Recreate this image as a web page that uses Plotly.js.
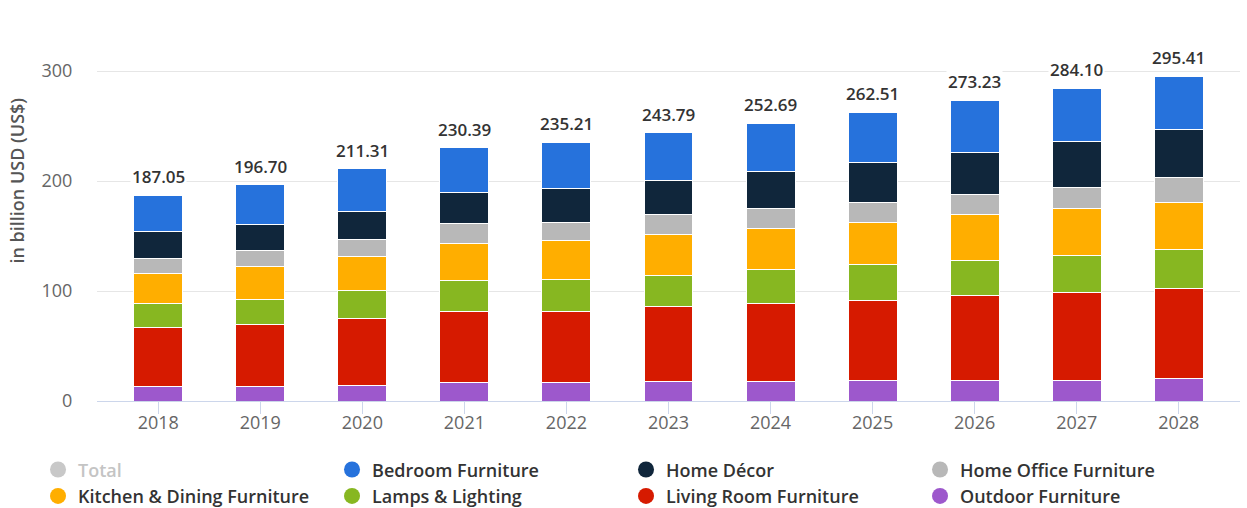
<!DOCTYPE html>
<html>
<head>
<meta charset="utf-8">
<script src="https://cdn.plot.ly/plotly-3.0.1.min.js"></script>
<style>html,body{margin:0;padding:0;background:#fff;}#chart{width:1247px;height:508px;}</style>
</head>
<body>
<div id="chart"></div>
<script>
const years = ['2018','2019','2020','2021','2022','2023','2024','2025','2026','2027','2028'];
const totals = [187.05,196.70,211.31,230.39,235.21,243.79,252.69,262.51,273.23,284.10,295.41];
const outdoor  = [13.3,13.3,14.5,16.4,16.4,17.9,17.9,18.8,18.8,18.8,20.3];
const livingRoom = [53.4,55.8,60.4,65.1,65.1,68.2,70.6,72.7,76.7,79.7,81.9];
const lamps    = [21.8,23.3,25.7,27.6,28.8,28.2,31.5,32.5,32.4,34.0,35.7];
const kitchen  = [27.3,30.1,31.2,34.0,35.8,37.0,36.7,38.2,41.5,42.4,43.0];
const homeOffice = [13.6,14.5,14.9,18.2,16.6,18.1,18.2,18.7,18.5,19.6,22.7];
const homeDecor = [24.3,23.6,26.0,27.8,30.4,31.2,33.3,35.8,37.9,41.0,43.1];
const bedroom  = [33.35,36.1,38.6,41.29,42.11,43.19,44.49,45.81,47.43,48.6,48.71];

const series = [
  {name:'Outdoor Furniture', y:outdoor, color:'#9d58cc'},
  {name:'Living Room Furniture', y:livingRoom, color:'#d61a00'},
  {name:'Lamps & Lighting', y:lamps, color:'#87b721'},
  {name:'Kitchen & Dining Furniture', y:kitchen, color:'#ffae00'},
  {name:'Home Office Furniture', y:homeOffice, color:'#b8b8b8'},
  {name:'Home Décor', y:homeDecor, color:'#10263b'},
  {name:'Bedroom Furniture', y:bedroom, color:'#2672dc'}
];

const traces = [];
series.forEach(s => {
  traces.push({type:'bar', x:years, y:s.y, name:s.name, marker:{color:s.color, line:{color:'#ffffff', width:1}}, showlegend:false, hoverinfo:'name+y'});
});
// legend entries (circle symbols)
const legendOrder = [
  {name:'<span style="color:#c4c4c4">Total</span>', color:'#c8c8c8'},
  {name:'Bedroom Furniture', color:'#2672dc'},
  {name:'Home Décor', color:'#10263b'},
  {name:'Home Office Furniture', color:'#b8b8b8'},
  {name:'Kitchen & Dining Furniture', color:'#ffae00'},
  {name:'Lamps & Lighting', color:'#87b721'},
  {name:'Living Room Furniture', color:'#d61a00'},
  {name:'Outdoor Furniture', color:'#9d58cc'}
];
legendOrder.forEach(l => {
  traces.push({type:'scatter', mode:'markers', x:[null], y:[null], name:l.name, marker:{symbol:'circle', size:16, color:l.color}, showlegend:true, hoverinfo:'skip'});
});

const annotations = years.map((yr,i) => ({
  x: i, y: totals[i], xref:'x', yref:'y', text: totals[i].toFixed(2), showarrow:false,
  yanchor:'bottom', yshift:5, font:{family:'Open Sans', size:17, color:'#333', weight:600}, bgcolor:'#ffffff'
}));
annotations.push({
  xref:'paper', yref:'paper', x:-0.082, y:0.608, text:'in billion USD (US$)', textangle:-90, showarrow:false,
  font:{family:'Open Sans', size:18, color:'#555', weight:600}
});

const layout = {
  width:1247, height:508,
  margin:{l:97, r:7, t:37.7, b:107.3, autoexpand:false},
  paper_bgcolor:'#fff', plot_bgcolor:'#fff',
  barmode:'stack', bargap:0.52,
  font:{family:'Open Sans', color:'#666'},
  xaxis:{type:'category', range:[-0.6,10.6], showgrid:false, showline:true, linecolor:'#ccd6eb', linewidth:1,
    ticks:'outside', ticklen:12, tickcolor:'#ccd6eb', ticklabelstandoff:-7, tickfont:{family:'Open Sans', size:18, color:'#666'}, fixedrange:true},
  yaxis:{range:[0,330], dtick:100, tick0:0, showgrid:true, gridcolor:'#e6e6e6', zeroline:false, showline:false,
    ticks:'outside', ticklen:20, tickcolor:'rgba(0,0,0,0)', tickfont:{family:'Open Sans', size:18, color:'#666'}, fixedrange:true},
  showlegend:true,
  legend:{orientation:'h', traceorder:'normal', x:-0.0516, xanchor:'left', y:-0.1385, yanchor:'top', entrywidth:249, entrywidthmode:'pixels',
    font:{family:'Open Sans', size:18, color:'#333', weight:600}, bgcolor:'rgba(0,0,0,0)'},
  annotations: annotations
};

Plotly.newPlot('chart', traces, layout, {displayModeBar:false, staticPlot:true});
</script>
</body>
</html>
